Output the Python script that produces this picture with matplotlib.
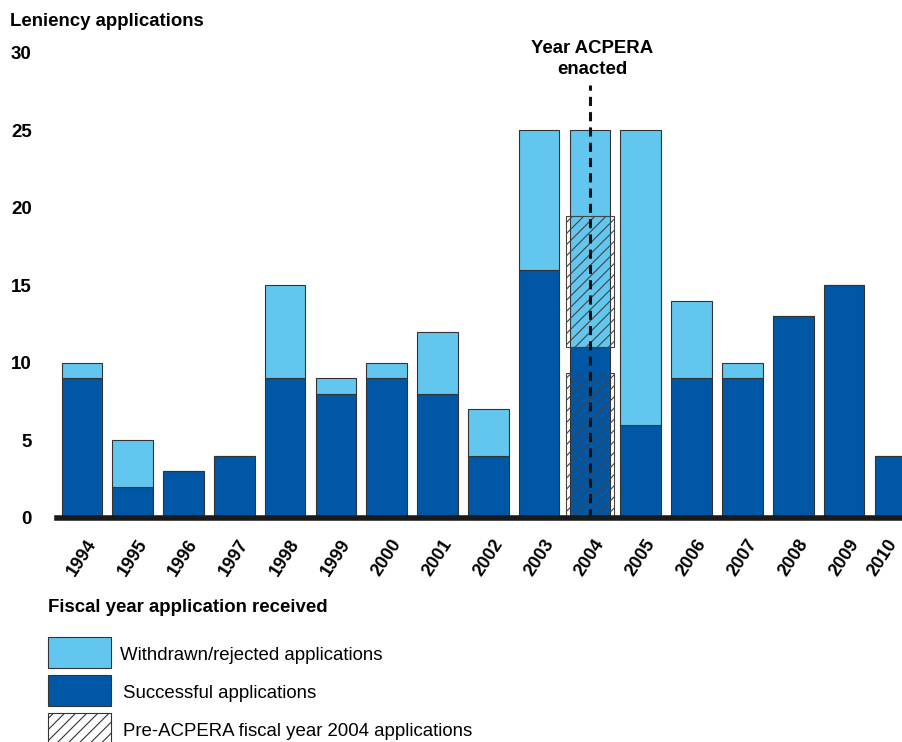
import matplotlib.pyplot as plt
from matplotlib.patches import Rectangle
from matplotlib.transforms import ScaledTranslation
import numpy as np

years = [1994, 1995, 1996, 1997, 1998, 1999, 2000, 2001, 2002,
         2003, 2004, 2005, 2006, 2007, 2008, 2009, 2010]
successful = [9, 2, 3, 4, 9, 8, 9, 8, 4, 16, 11, 6, 9, 9, 13, 15, 4]
withdrawn = [1, 3, 0, 0, 6, 1, 1, 4, 3, 9, 14, 19, 5, 1, 0, 0, 0]
# pre-ACPERA part of fiscal year 2004 (successful, withdrawn), as drawn
pre_success = 9.35
pre_withdrawn = 8.5

light = "#63c6ee"
dark = "#0057a6"
edge = "#333333"
font = "Liberation Sans"
plt.rcParams['font.family'] = [font, 'DejaVu Sans']
plt.rcParams['hatch.linewidth'] = 0.8

fig = plt.figure(figsize=(9.02, 7.42), dpi=100)
ax = fig.add_axes([0.063, 0.302, 0.937, 0.6267])

x = np.arange(len(years))
w = 0.8
ax.bar(x, successful, w, color=dark, edgecolor=edge, linewidth=0.8, zorder=2)
ax.bar(x, withdrawn, w, bottom=successful, color=light, edgecolor=edge, linewidth=0.8, zorder=2)

# hatched boxes for 2004
i04 = years.index(2004)
ax.bar(x[i04], pre_success, 0.96, color="none", edgecolor="#444444", hatch="///", linewidth=0.8, zorder=3)
ax.bar(x[i04], pre_withdrawn, 0.96, bottom=successful[i04], color="none", edgecolor="#444444",
       hatch="///", linewidth=0.8, zorder=3)

# ACPERA line
ax.plot([x[i04], x[i04]], [0, 27.9], color="#111111", lw=2.2, ls=(0, (3, 2)), zorder=4)
ax.text(x[i04] + 0.05, 28.4, "Year ACPERA\nenacted", ha="center", va="bottom", fontsize=13.4,
        fontweight="bold", linespacing=1.3)

ax.set_xlim(-0.492, 16.14)
ax.set_ylim(0, 30)
for s in ["top", "right", "left"]:
    ax.spines[s].set_visible(False)
ax.spines["bottom"].set_linewidth(4)
ax.spines["bottom"].set_color("#1a1a1a")
ax.spines["bottom"].set_zorder(5)

ax.set_yticks(range(0, 31, 5))
ax.set_yticklabels([str(v) for v in range(0, 31, 5)], fontsize=13.5, fontweight="bold")
ax.tick_params(axis="y", length=0, pad=18)
ax.set_xticks(x)
ax.set_xticklabels([str(y) for y in years], fontsize=13, fontweight="bold", rotation=57,
                   ha="center", va="top")
ax.tick_params(axis="x", length=0, pad=13)
# keep the last label inside the figure
last = ax.get_xticklabels()[-1]
last.set_ha("right")
last.set_transform(last.get_transform() + ScaledTranslation(6 / 100, 0, fig.dpi_scale_trans))

fig.text(10 / 902, 1 - 22 / 742, "Leniency applications", fontsize=13.4, fontweight="bold",
         va="center", ha="left")

# legend
fig.text(48 / 902, 1 - 607 / 742, "Fiscal year application received", fontsize=13.4,
         fontweight="bold", va="center", ha="left")
items = [(light, None, "Withdrawn/rejected applications", 637, 120),
         (dark, None, "Successful applications", 675, 123),
         ("white", "///", "Pre-ACPERA fiscal year 2004 applications", 713, 123)]
for col, hat, label, ytop, tx in items:
    r = Rectangle((48 / 902, 1 - (ytop + 31) / 742), 63 / 902, 31 / 742,
                  transform=fig.transFigure, facecolor=col, edgecolor=edge,
                  hatch=hat, linewidth=0.8)
    fig.patches.append(r)
    fig.text(tx / 902, 1 - (ytop + 18) / 742, label, fontsize=13.4, va="center", ha="left")

fig.savefig("out.png", dpi=100)
